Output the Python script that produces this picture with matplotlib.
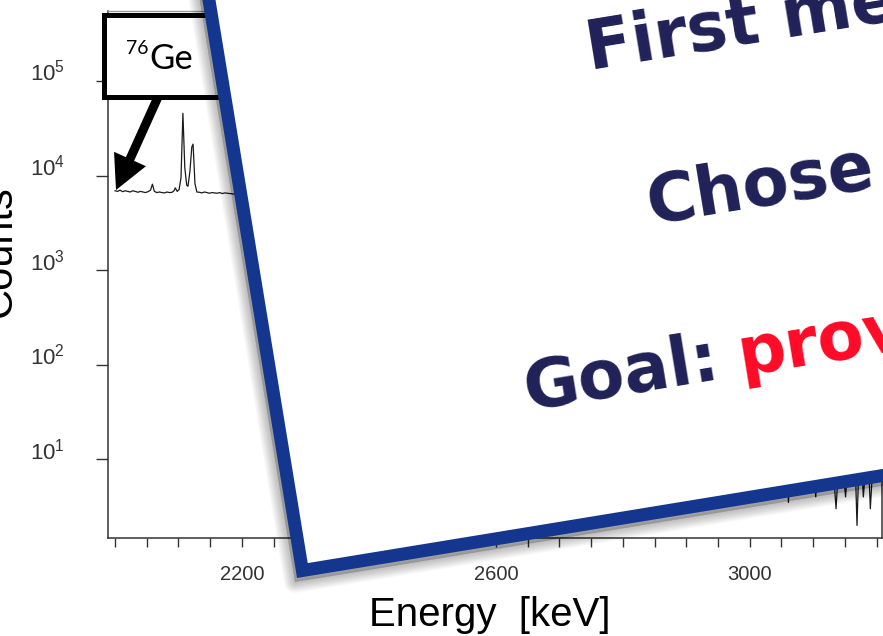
import matplotlib
matplotlib.use("Agg")
import matplotlib.pyplot as plt
import numpy as np
from matplotlib.patches import Polygon, Rectangle, FancyArrow
from matplotlib.ticker import NullLocator

plt.rcParams["font.family"] = ["Liberation Sans", "DejaVu Sans"]

# Ge detector spectrum, energy in keV, counts per bin
energy_low = [2000, 2004, 2008, 2012, 2016, 2020, 2024, 2028, 2032, 2036,
              2040, 2044, 2048, 2052, 2056, 2059, 2062, 2066, 2070, 2074,
              2078, 2082, 2086, 2090, 2093, 2095, 2098, 2101, 2104, 2107,
              2110, 2113, 2115, 2118, 2121, 2123, 2126, 2129, 2133, 2137,
              2141, 2145, 2149, 2153, 2157, 2161, 2165, 2169, 2173, 2177, 2181]
counts_low = [6900, 6800, 7000, 6750, 6900, 6800, 6700, 6900, 6800, 6650,
              6800, 6700, 6600, 6750, 7000, 8100, 6800, 6600, 6700, 6600,
              6550, 6700, 6600, 6650, 6900, 7400, 6800, 7100, 9500, 45500,
              12000, 7900, 7700, 11000, 20000, 21500, 8200, 6700, 6650, 6550,
              6700, 6600, 6500, 6600, 6550, 6500, 6600, 6450, 6550, 6500, 6450]
energy_mid = [2200, 2250, 2300, 2350, 2400, 2450, 2500, 2550, 2590, 2605,
              2611, 2614, 2617, 2622, 2640, 2680, 2720, 2780, 2850, 2920,
              2990, 3030]
counts_mid = [6200, 5200, 4300, 3600, 3000, 2500, 2100, 1700, 1400, 1300,
              9000, 62000, 5000, 300, 90, 45, 28, 18, 13, 11, 10, 9]
energy_high = [3034, 3040, 3046, 3052, 3058, 3061, 3064, 3070, 3076, 3082,
               3088, 3094, 3100, 3104, 3107, 3110, 3113, 3119, 3125, 3131,
               3136, 3140, 3146, 3151, 3155, 3160, 3166, 3169, 3172, 3176,
               3179, 3183, 3187, 3190, 3194, 3199, 3204]
counts_high = [10, 9, 11, 9, 10, 3.5, 10, 9, 11, 10,
               9, 10, 9, 4, 9, 5, 10, 9, 11, 9,
               3, 9, 10, 4, 10, 9, 10, 2, 9, 10,
               4, 9, 10, 3, 9, 10, 9]

x_labeled = [2200, 2600, 3000]
x_minor = list(range(2000, 3201, 50))
y_decades = [1e1, 1e2, 1e3, 1e4, 1e5]

slide_lines = ["First measurement", "Chose", "Goal:"]
goal_word = "prove"

W, H = 883, 636
NAVY = "#1f2157"
BLUE = "#14368e"
RED = "#ff0a26"

fig = plt.figure(figsize=(W / 100, H / 100), dpi=100)
fig.patch.set_facecolor("white")

ax = fig.add_axes([107.5 / W, 1 - 538.3 / H, 774 / W, 527.6 / H])
energy = energy_low + energy_mid + energy_high
counts = counts_low + counts_mid + counts_high
ax.plot(energy, counts, color="#1a1a1a", lw=0.9)
ax.set_yscale("log")
ax.set_xlim(1988.2, 3207.6)
ax.set_ylim(1.461, 5.53e5)
ax.set_xticks(x_labeled)
ax.set_xticks(x_minor, minor=True)
ax.set_yticks(y_decades)
ax.yaxis.set_minor_locator(NullLocator())
ax.tick_params(axis="x", which="both", direction="out", length=6.5, width=1,
               colors="#333333", labelsize=14.5, pad=13)
ax.tick_params(axis="y", which="both", direction="out", length=8.5, width=1,
               colors="#333333", labelsize=16, pad=22)
for lbl in ax.get_yticklabels():
    lbl.set_verticalalignment("baseline")
for side in ["left", "bottom", "right"]:
    ax.spines[side].set_color("#333333")
    ax.spines[side].set_linewidth(1.1)
ax.spines["top"].set_color("#999999")
ax.spines["top"].set_linewidth(1.0)

fig.text(20 / W, 1 - 251 / H, "Counts", rotation=90, ha="right", va="center",
         fontsize=30)
fig.text(490 / W, 1 - 626 / H, "Energy  [keV]", ha="center", va="baseline",
         fontsize=29)

# overlay in pixel coordinates (y down)
ov = fig.add_axes([0, 0, 1, 1], zorder=10)
ov.set_xlim(0, W)
ov.set_ylim(H, 0)
ov.axis("off")

# isotope label with arrow to the continuum
ov.add_patch(Rectangle((104, 15), 160, 81.5, facecolor="white",
                       edgecolor="black", lw=3.6, zorder=1))
ov.text(126, 54, "76", fontsize=14, family=["Lato", "DejaVu Sans"],
        va="baseline", ha="left", zorder=2)
ov.text(149, 69, "Ge", fontsize=25, family=["Lato", "DejaVu Sans"],
        va="baseline", ha="left", zorder=2)
ov.add_patch(FancyArrow(158, 97, 116 - 158, 190 - 97, width=9, head_width=35,
                        head_length=34, length_includes_head=True,
                        color="black", lw=0, zorder=2))

# tilted white card with blue frame and soft shadow
theta = np.deg2rad(9.3)
u = np.array([np.cos(theta), -np.sin(theta)])
v = np.array([-np.sin(theta), -np.cos(theta)])
corner = np.array([297.0, 578.0])
card_w, card_h = 1300, 1100


def card(c, w, h):
    return np.array([c, c + w * u, c + w * u + h * v, c + h * v])


shadow_at = corner + np.array([-2.0, 4.0])
for s in range(2, 24, 2):
    ov.add_patch(Polygon(card(shadow_at, card_w, card_h), closed=True,
                         facecolor=(0, 0, 0, 0.02), edgecolor=(0, 0, 0, 0.022),
                         lw=s * 0.72, joinstyle="round", zorder=3))
frame = corner + 6.5 * u + 6.5 * v
ov.add_patch(Polygon(card(frame, card_w, card_h), closed=True,
                     facecolor="white", edgecolor=BLUE, lw=13 * 0.72,
                     joinstyle="miter", zorder=4))

anchors = [(590, 70), (650, 224), (527, 410)]
deg = np.rad2deg(theta)
card_font = dict(fontsize=48.5, fontweight="bold", family=["DejaVu Sans"])
text_kw = dict(rotation=deg, rotation_mode="anchor", ha="left", va="baseline",
               zorder=5, **card_font)
for line, (x, y) in zip(slide_lines, anchors):
    ov.text(x, y, line, color=NAVY, **text_kw)

renderer = fig.canvas.get_renderer()
probe = ov.text(0, 0, slide_lines[2], **card_font)
goal_w = probe.get_window_extent(renderer).width + 20
probe.remove()
gx, gy = np.array(anchors[2]) + goal_w * u
ov.text(gx, gy, goal_word, color=RED, **text_kw)

fig.savefig("out.png", dpi=100)
